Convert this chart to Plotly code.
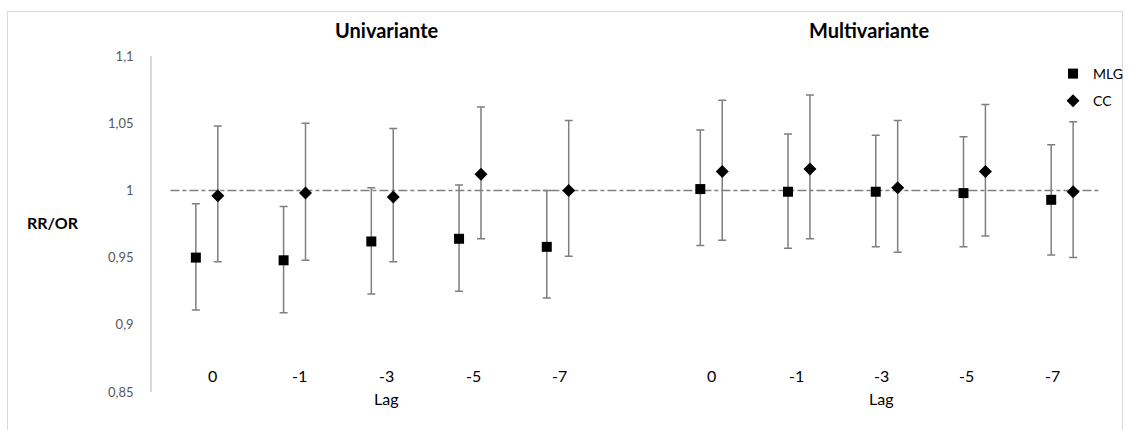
import plotly.graph_objects as go

# ---- data ----
lags = ["0", "-1", "-3", "-5", "-7"]
groups = ["Univariante", "Multivariante"]

mlg = [0.950, 0.948, 0.962, 0.964, 0.958, 1.001, 0.999, 0.999, 0.998, 0.993]
mlg_lo = [0.911, 0.909, 0.923, 0.925, 0.920, 0.959, 0.957, 0.958, 0.958, 0.952]
mlg_hi = [0.990, 0.988, 1.002, 1.004, 1.000, 1.045, 1.042, 1.041, 1.040, 1.034]

cc = [0.996, 0.998, 0.995, 1.012, 1.000, 1.014, 1.016, 1.002, 1.014, 0.999]
cc_lo = [0.947, 0.948, 0.947, 0.964, 0.951, 0.963, 0.964, 0.954, 0.966, 0.950]
cc_hi = [1.048, 1.050, 1.046, 1.062, 1.052, 1.067, 1.071, 1.052, 1.064, 1.051]

y_ticks = [0.85, 0.9, 0.95, 1.0, 1.05, 1.1]
y_ticktext = ["0,85", "0,9", "0,95", "1", "1,05", "1,1"]

# ---- layout positions ----
group_base = [1.0, 6.75]
x_mlg = [b + i for b in group_base for i in range(len(lags))]
x_cc = [x + 0.25 for x in x_mlg]

W, H = 1130, 430
ML, MR, MT, MB = 152, 13, 56, 38
PW, PH = W - ML - MR, H - MT - MB

def px_to_paper_x(px):
    return (px - ML) / PW

def px_to_paper_y(py):
    return (H - MB - py) / PH

FONT = "Lato"
ERR_COL = "#7f7f7f"

fig = go.Figure()

fig.add_trace(go.Scatter(
    x=x_mlg, y=mlg, mode="markers", name="MLG",
    legendgroup="a",
    marker=dict(symbol="square", size=10, color="black"),
    error_y=dict(type="data", symmetric=False,
                 array=[h - v for h, v in zip(mlg_hi, mlg)],
                 arrayminus=[v - l for v, l in zip(mlg, mlg_lo)],
                 color=ERR_COL, thickness=1.5, width=4),
))
fig.add_trace(go.Scatter(
    x=x_cc, y=cc, mode="markers", name="CC",
    legendgroup="b",
    marker=dict(symbol="diamond", size=10, color="black"),
    error_y=dict(type="data", symmetric=False,
                 array=[h - v for h, v in zip(cc_hi, cc)],
                 arrayminus=[v - l for v, l in zip(cc, cc_lo)],
                 color=ERR_COL, thickness=1.5, width=4),
))

shapes = [
    # reference line at 1
    dict(type="line", xref="x", yref="y", x0=0.71, x1=11.3, y0=1, y1=1,
         line=dict(color="#808080", width=1.5, dash="9px,3px,4px,3px"), layer="below"),
    # outer chart border
    dict(type="rect", xref="paper", yref="paper",
         x0=px_to_paper_x(7.5), x1=px_to_paper_x(1122.5),
         y0=px_to_paper_y(445), y1=px_to_paper_y(11.5),
         line=dict(color="#d9d9d9", width=1), fillcolor="rgba(0,0,0,0)"),
]

annotations = []
# x category labels
label_start = [1.19, 6.88]
label_step = [0.99, 0.97]
for g in range(2):
    for i, lab in enumerate(lags):
        annotations.append(dict(
            x=label_start[g] + label_step[g] * i, y=px_to_paper_y(375),
            xref="x", yref="paper", text=lab, showarrow=False,
            font=dict(family=FONT, size=16, color="black"),
            xanchor="center", yanchor="middle"))
    annotations.append(dict(
        x=label_start[g] + label_step[g] * 2, y=px_to_paper_y(398),
        xref="x", yref="paper", text="Lag", showarrow=False,
        font=dict(family=FONT, size=16, color="black"),
        xanchor="center", yanchor="middle"))

# group titles
title_px = [387, 869]
for g, t in enumerate(groups):
    annotations.append(dict(
        x=px_to_paper_x(title_px[g]), y=px_to_paper_y(30),
        xref="paper", yref="paper", text="<b>%s</b>" % t, showarrow=False,
        font=dict(family=FONT, size=20, color="black"),
        xanchor="center", yanchor="middle"))

# y axis title
annotations.append(dict(
    x=px_to_paper_x(53), y=px_to_paper_y(222),
    xref="paper", yref="paper", text="<b>RR/OR</b>", showarrow=False,
    font=dict(family=FONT, size=16, color="black"),
    xanchor="center", yanchor="middle"))

fig.update_layout(
    width=W, height=H,
    margin=dict(l=ML, r=MR, t=MT, b=MB, autoexpand=False),
    paper_bgcolor="white", plot_bgcolor="white",
    font=dict(family=FONT, size=13, color="#595959"),
    xaxis=dict(range=[0.5, 11.5], showgrid=False, zeroline=False,
               showticklabels=False, ticks="", showline=False, fixedrange=True),
    yaxis=dict(range=[0.85, 1.1], tickvals=y_ticks, ticktext=y_ticktext,
               showgrid=False, zeroline=False, showline=True,
               linecolor="#d9d9d9", linewidth=1.5, ticks="",
               ticklabelstandoff=14,
               tickfont=dict(family=FONT, size=13, color="#595959")),
    shapes=shapes,
    annotations=annotations,
    showlegend=True,
    legend=dict(x=px_to_paper_x(1053), y=px_to_paper_y(58),
                xanchor="left", yanchor="top",
                traceorder="grouped", tracegroupgap=6,
                itemwidth=30,
                bgcolor="rgba(0,0,0,0)",
                font=dict(family=FONT, size=14, color="black")),
)

fig.write_html("out.html")
